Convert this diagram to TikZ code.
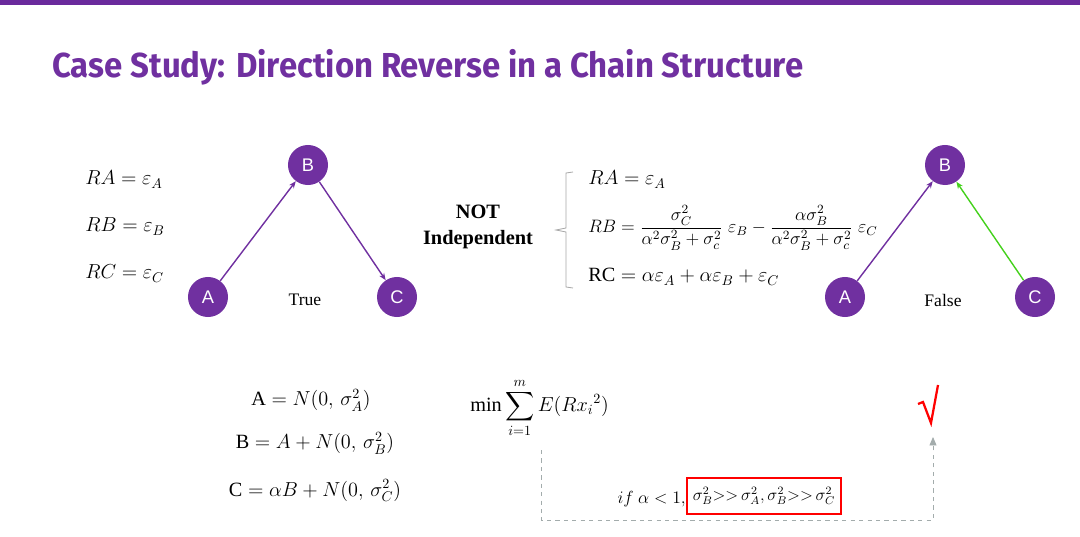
\RequirePackage{fix-cm}
\documentclass[tikz,border=0pt]{standalone}
\usepackage{amsmath,amssymb}
\usepackage{fontspec}
\setmainfont{Liberation Serif}
\setsansfont{Liberation Sans}
\newfontfamily\titlefont{Fira Sans}[UprightFont=* Bold]
\usetikzlibrary{arrows.meta,positioning,calc}
\definecolor{pptpurple}{HTML}{7030A0}
\definecolor{barpurple}{HTML}{6A2A9C}
\definecolor{edgegreen}{HTML}{44D11C}
\definecolor{dashgray}{HTML}{A3ACAC}
\definecolor{bracegray}{HTML}{A8A8A8}
\newcommand{\eqsize}{\fontsize{14.4}{17}\selectfont}

\begin{document}
\begin{tikzpicture}[x=0.025cm,y=-0.025cm,>=Stealth,
  vnode/.style={circle,fill=pptpurple,text=white,inner sep=0pt,minimum size=1cm,
    font=\sffamily\fontsize{13}{13}\selectfont},
  vedge/.style={-{Stealth[length=5pt,width=4pt]},line width=1pt,pptpurple},
  eqn/.style={font=\eqsize,inner sep=0pt},
  verdict/.style={font=\fontsize{12.5}{14}\selectfont,inner sep=0pt}]
\useasboundingbox (0,0) rectangle (1080,537);
\fill[barpurple] (0,0) rectangle (1080,5);
\node[anchor=base west,inner sep=0pt,text=pptpurple] (title) at (52,78)
  {\resizebox{534pt}{20pt}{\titlefont\fontsize{26}{28}\selectfont Case Study: Direction Reverse in a Chain Structure}};

% true chain
\node[eqn,anchor=base west] (ra1) at (85,185) {$RA=\varepsilon_A$};
\node[eqn,anchor=base west] (rb1) at (85,232) {$RB=\varepsilon_B$};
\node[eqn,anchor=base west] (rc1) at (85,279) {$RC=\varepsilon_C$};
\node[vnode] (a1) at (208,297) {A};
\node[vnode] (b1) at (308,165) {B};
\node[vnode] (c1) at (397,297) {C};
\draw[vedge] (a1) -- (b1);
\draw[vedge] (b1) -- (c1);
\node[verdict] (true) at (305,300) {True};

% not independent
\node[align=center,font=\bfseries\fontsize{14.5}{18.5}\selectfont,inner sep=0pt] (notind) at (478,227) {NOT\\Independent};
\draw[bracegray,line width=0.6pt] (573,172) -- (566,173) -- (566,228) -- (556,230) -- (566,232) -- (566,287) -- (573,288);
\node[eqn,anchor=base west] (ra2) at (588,185) {$RA=\varepsilon_A$};
\node[eqn,anchor=west,font=\fontsize{12.8}{15}\selectfont] (rb2) at (588,228)
  {$RB=\dfrac{\sigma_C^2}{\alpha^2\sigma_B^2+\sigma_c^2}\;\varepsilon_B-\dfrac{\alpha\sigma_B^2}{\alpha^2\sigma_B^2+\sigma_c^2}\;\varepsilon_C$};
\node[eqn,anchor=base west] (rc2) at (588,282) {$\mathrm{RC}=\alpha\varepsilon_A+\alpha\varepsilon_B+\varepsilon_C$};

% reversed chain
\node[vnode] (a2) at (845,297) {A};
\node[vnode] (b2) at (945,165) {B};
\node[vnode] (c2) at (1035,297) {C};
\draw[vedge] (a2) -- (b2);
\draw[vedge,edgegreen] (c2) -- (b2);
\node[verdict] (false) at (943,300) {False};

% generating model
\node[eqn,anchor=base] (gena) at (311,406) {$\mathrm{A}=N(0,\,\sigma_A^2)$};
\node[eqn,anchor=base] (genb) at (315,449) {$\mathrm{B}=A+N(0,\,\sigma_B^2)$};
\node[eqn,anchor=base] (genc) at (315,496) {$\mathrm{C}=\alpha B+N(0,\,\sigma_C^2)$};

% objective
\node[eqn,anchor=west] (obj) at (470,408) {$\displaystyle\min\sum_{i=1}^{m}E(Rx_i{}^2)$};
\node[eqn,anchor=base east,font=\fontsize{12.5}{15}\selectfont] (ifa) at (686,503) {$if\ \alpha<1,$};
\node[eqn,draw=red,line width=0.8pt,minimum width=3.85cm,minimum height=0.9cm,font=\fontsize{12}{15}\selectfont] (cond) at (764,496)
  {$\sigma_B^2{>}{>}\,\sigma_A^2,\sigma_B^2{>}{>}\,\sigma_C^2$};
\coordinate (dstart) at (541,450);
\coordinate (dend) at (933,437);
\draw[dashgray,dashed,line width=0.6pt,-{Triangle[length=6pt,width=5pt]}] (dstart) -- ++(0,70) -| (dend);
\draw[red,line width=1.6pt] (918,404) -- (923,402) -- (931,423) -- (938,385);
\end{tikzpicture}
\end{document}
